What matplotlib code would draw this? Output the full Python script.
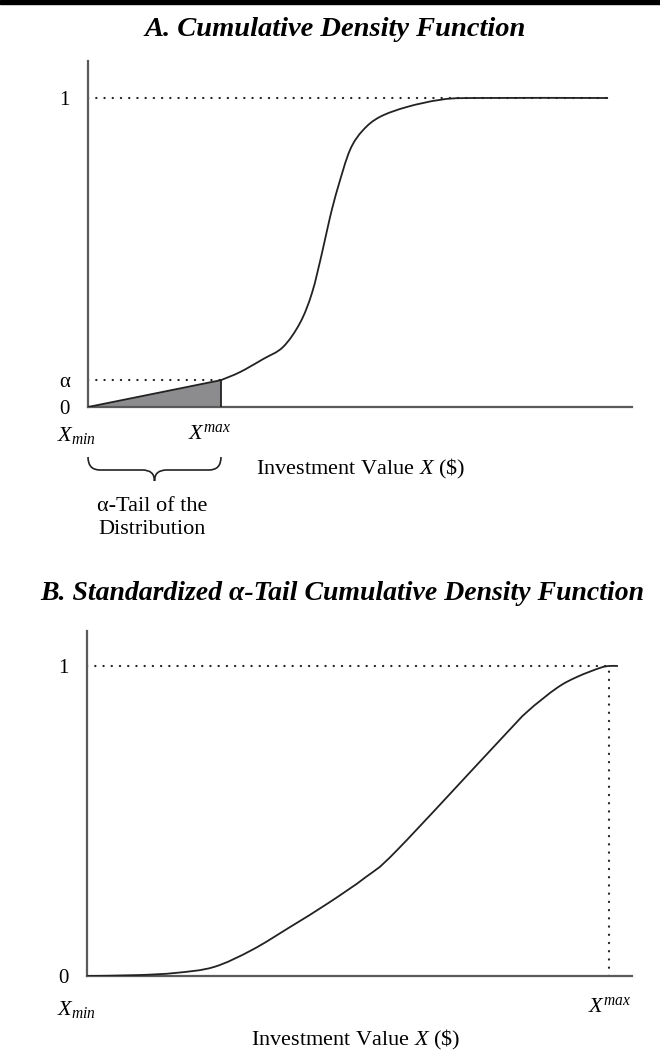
import matplotlib.pyplot as plt
from matplotlib.patches import Rectangle, PathPatch, Polygon
from matplotlib.path import Path

plt.rcParams['font.family'] = ['Liberation Serif', 'DejaVu Serif']
plt.rcParams['mathtext.fontset'] = 'custom'
plt.rcParams['mathtext.rm'] = 'Liberation Serif'
plt.rcParams['mathtext.it'] = 'Liberation Serif:italic'

LINE_COLOR = "#222222"
AXIS_COLOR = "#5a5a5a"
FILL_COLOR = "#8c8c8e"

# Panel A: full CDF (x in units of the alpha-tail width, X_max = 1)
ALPHA = 0.087
A_X_MAX = 1.0
A_X = [0.0, 1.0, 1.143, 1.316, 1.466, 1.594, 1.684, 1.759, 1.820, 1.880,
       1.970, 2.068, 2.195, 2.398, 2.647, 2.895, 3.910]
A_Y = [0.0, 0.087, 0.113, 0.155, 0.194, 0.272, 0.369, 0.498, 0.615, 0.712,
       0.832, 0.896, 0.939, 0.971, 0.994, 1.0, 1.0]
A_XLIM = 4.09

# Panel B: standardized alpha-tail CDF
B_X = [0.0, 0.098, 0.170, 0.243, 0.316, 0.389, 0.462, 0.534, 0.594,
       0.795, 0.843, 0.900, 0.939, 0.983, 1.0, 1.017]
B_Y = [0.0, 0.003, 0.010, 0.029, 0.084, 0.158, 0.235, 0.319, 0.406,
       0.768, 0.852, 0.929, 0.965, 0.994, 1.0, 1.0]
B_XLIM = 1.044

W, H = 660, 1053


def fx(px):
    return px / W


def fy(py):
    return 1 - py / H


def smooth_path(xs, ys):
    # catmull-rom through the read points, drawn as cubic bezier segments
    pts = list(zip(xs, ys))
    verts = [pts[0]]
    codes = [Path.MOVETO]
    n = len(pts)
    for i in range(n - 1):
        p0 = pts[i - 1] if i > 0 else pts[i]
        p1 = pts[i]
        p2 = pts[i + 1]
        p3 = pts[i + 2] if i + 2 < n else pts[i + 1]
        c1 = (p1[0] + (p2[0] - p0[0]) / 6, p1[1] + (p2[1] - p0[1]) / 6)
        c2 = (p2[0] - (p3[0] - p1[0]) / 6, p2[1] - (p3[1] - p1[1]) / 6)
        verts += [c1, c2, p2]
        codes += [Path.CURVE4] * 3
    return Path(verts, codes)


def style_axes(ax, ytick_vals, ytick_labels):
    for s in ["top", "right"]:
        ax.spines[s].set_visible(False)
    for s in ["left", "bottom"]:
        ax.spines[s].set_color(AXIS_COLOR)
        ax.spines[s].set_linewidth(1.6)
    ax.set_xticks([])
    ax.set_yticks(ytick_vals, ytick_labels)
    ax.tick_params(axis='y', length=0, pad=13, labelsize=15)


def dotted(ax, xs, ys):
    ax.plot(xs, ys, color=LINE_COLOR, lw=1.6, linestyle=(0, (0.1, 3.6)),
            dash_capstyle='round', zorder=1)


def curve(ax, xs, ys):
    ax.add_patch(PathPatch(smooth_path(xs, ys), fill=False, edgecolor=LINE_COLOR,
                           lw=1.3, zorder=3, joinstyle='round'))


fig = plt.figure(figsize=(W / 100, H / 100), dpi=100)

# thick rule at top of the page
fig.patches.append(Rectangle((0, fy(4)), 1, 4 / H, transform=fig.transFigure,
                             color='black', zorder=5))

# ---- Panel A ----
axA = fig.add_axes([fx(88), fy(407), fx(632) - fx(88), fy(61) - fy(407)])
axA.set_xlim(0, A_XLIM)
axA.set_ylim(0, (407 - 61) / 309)
style_axes(axA, [0, ALPHA, 1], ["0", "α", "1"])

dotted(axA, [0, A_X[-1]], [1, 1])
dotted(axA, [0, A_X_MAX], [ALPHA, ALPHA])
axA.add_patch(Polygon([(0, 0), (A_X_MAX, ALPHA), (A_X_MAX, 0)], closed=True,
                      facecolor=FILL_COLOR, edgecolor='none', zorder=2))
axA.plot([A_X_MAX, A_X_MAX], [0, ALPHA], color=LINE_COLOR, lw=1.3, zorder=3)
# straight tail segment, then the smooth body of the cdf
axA.plot(A_X[:2], A_Y[:2], color=LINE_COLOR, lw=1.3, zorder=3)
curve(axA, A_X[1:], A_Y[1:])

axA.annotate("$X_{min}$", xy=(0, 0), xytext=(-11, -29), textcoords='offset pixels',
             ha='center', va='center', fontsize=16)
axA.annotate("$X^{max}$", xy=(A_X_MAX, 0), xytext=(-11, -27), textcoords='offset pixels',
             ha='center', va='center', fontsize=16)

fig.text(fx(335), fy(30), "A. Cumulative Density Function", ha='center', va='center',
         fontsize=20.5, fontweight='bold', fontstyle='italic')
fig.text(fx(361), fy(469), "Investment Value $X$ (\\$)", ha='center', va='center',
         fontsize=16)
fig.text(fx(152), fy(507), "α-Tail of the", ha='center', va='center', fontsize=16)
fig.text(fx(152), fy(530), "Distribution", ha='center', va='center', fontsize=16)

# curly brace under the alpha tail
x0, x1, xm = 88, 221, 154.5
yt, yb, ytip = 457, 470, 481
verts = [(x0, yt), (x0, yb), (x0 + 12, yb), (xm - 12, yb), (xm, yb), (xm, ytip),
         (xm, yb), (xm + 12, yb), (x1 - 12, yb), (x1, yb), (x1, yt)]
codes = [Path.MOVETO, Path.CURVE3, Path.CURVE3, Path.LINETO, Path.CURVE3, Path.CURVE3,
         Path.CURVE3, Path.CURVE3, Path.LINETO, Path.CURVE3, Path.CURVE3]
brace = Path([(fx(x), fy(y)) for x, y in verts], codes)
fig.patches.append(PathPatch(brace, fill=False, lw=1.2, edgecolor=LINE_COLOR,
                             transform=fig.transFigure))

# ---- Panel B ----
axB = fig.add_axes([fx(87), fy(976), fx(632) - fx(87), fy(631) - fy(976)])
axB.set_xlim(0, B_XLIM)
axB.set_ylim(0, (976 - 631) / 310)
style_axes(axB, [0, 1], ["0", "1"])

dotted(axB, [0, 1], [1, 1])
dotted(axB, [1, 1], [0, 1])
curve(axB, B_X, B_Y)

axB.annotate("$X_{min}$", xy=(0, 0), xytext=(-10, -33), textcoords='offset pixels',
             ha='center', va='center', fontsize=16)
axB.annotate("$X^{max}$", xy=(1, 0), xytext=(1, -31), textcoords='offset pixels',
             ha='center', va='center', fontsize=16)

fig.text(fx(342), fy(594), "B. Standardized α-Tail Cumulative Density Function",
         ha='center', va='center', fontsize=20, fontweight='bold', fontstyle='italic')
fig.text(fx(356), fy(1040), "Investment Value $X$ (\\$)", ha='center', va='center',
         fontsize=16)

fig.savefig("out.png", dpi=100)
